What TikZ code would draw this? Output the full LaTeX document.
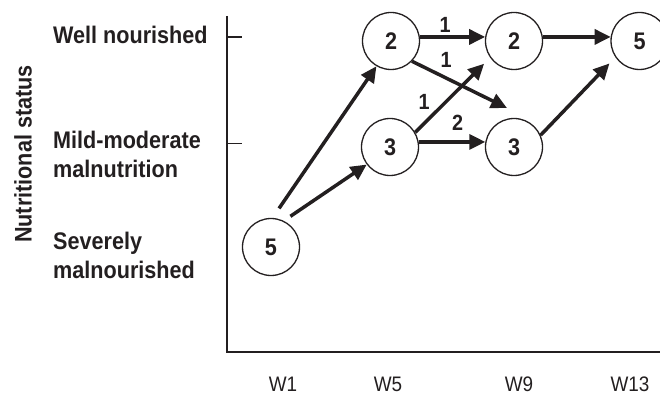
\documentclass[tikz,border=0pt]{standalone}
\usepackage{fontspec}
\setmainfont{Liberation Sans}[FakeStretch=0.9]
\usetikzlibrary{arrows.meta}
\definecolor{ink}{RGB}{35,31,32}
\begin{document}
\begin{tikzpicture}[x=1pt,y=-1pt,
  state/.style={circle, draw=ink, line width=1.3pt, minimum size=57pt, inner sep=0pt,
    font=\fontsize{24}{28}\selectfont\bfseries, text=ink},
  trans/.style={draw=ink, line width=3.5pt, -{Triangle[length=16pt,width=15pt]}},
  lvl/.style={anchor=base west, font=\fontsize{24}{28.5}\selectfont\bfseries, text=ink, inner sep=0pt},
  wk/.style={anchor=base, font=\fontsize{21}{25}\selectfont, text=ink, inner sep=0pt},
  cnt/.style={font=\fontsize{22}{26}\selectfont\bfseries, text=ink, inner sep=0pt},
  axisline/.style={draw=ink, line width=1.9pt, line join=miter}]
\useasboundingbox (0,0) rectangle (660,395);

% axes
\draw[axisline] (227,16) -- (227,352) -- (664,352);
\draw[axisline] (227,37) -- (242,37);
\draw[axisline] (227,143.5) -- (242,143.5);

% axis texts
\node[rotate=90, anchor=base, font=\fontsize{24}{28}\selectfont\bfseries, text=ink, inner sep=0pt]
  (ytitle) at (31.5,154) {Nutritional status};
\node[lvl] (wn) at (53,43.3) {Well nourished};
\node[lvl] (mm) at (53,177.3) {\begin{tabular}[b]{@{}l@{}}Mild-moderate\\malnutrition\end{tabular}};
\node[lvl] (sm) at (53,278.3) {\begin{tabular}[b]{@{}l@{}}Severely\\malnourished\end{tabular}};
\node[wk] (w1) at (283,391) {W1};
\node[wk] (w5) at (388,391) {W5};
\node[wk] (w9) at (519,391) {W9};
\node[wk] (w13) at (630,391) {W13};

% states
\node[state] (s1) at (271,247) {5};
\node[state] (a2) at (391,41) {2};
\node[state] (a3) at (390,147) {3};
\node[state] (b2) at (514,41) {2};
\node[state] (b3) at (514,147) {3};
\node[state] (c5) at (639.5,41) {5};
\coordinate (free) at (507,108);

% transitions
\draw[trans, shorten <=11.5pt] (s1.87) -- (a2.240);
\draw[trans, shorten <=8pt] (s1.64) -- (a3.217);
\draw[trans] (a2.8) -- (b2.172);
\draw[trans] (a2.316) -- (free);
\draw[trans, shorten >=8.5pt] (a3.30) -- (b2.215);
\draw[trans] (a3.10) -- (b3.170);
\draw[trans] (b2.8) -- (c5.172);
\draw[trans, shorten >=8.5pt] (b3.24) -- (c5.214);

% counts
\node[cnt] (l1) at (445,24.5) {1};
\node[cnt] (l2) at (446,59.5) {1};
\node[cnt] (l3) at (424,101.5) {1};
\node[cnt] (l4) at (457.5,122.5) {2};
\end{tikzpicture}
\end{document}
